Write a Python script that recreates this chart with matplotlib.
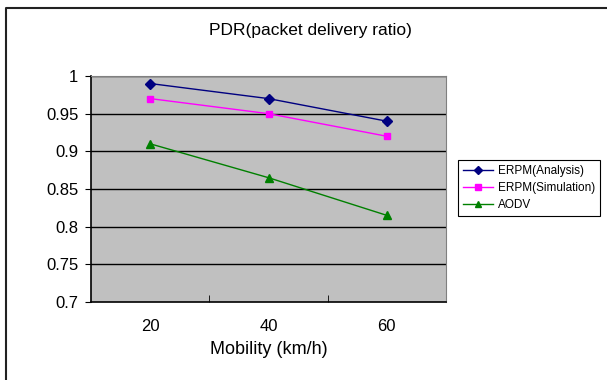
import matplotlib.pyplot as plt
from matplotlib.lines import Line2D
import numpy as np

# data
mobility = ['20', '40', '60']
erpm_analysis = [0.99, 0.97, 0.94]
erpm_sim = [0.97, 0.95, 0.92]
aodv = [0.91, 0.865, 0.815]
yticks = [0.7, 0.75, 0.8, 0.85, 0.9, 0.95, 1.0]
ylabels = ['0.7', '0.75', '0.8', '0.85', '0.9', '0.95', '1']

plt.rcParams['font.family'] = ['Liberation Sans', 'DejaVu Sans']

fig = plt.figure(figsize=(6.07, 3.80), dpi=100)
# outer chart border (only top/left visible in the crop)
bx, by = 5.5/607, 1 - 7.5/380
fig.lines.append(Line2D([bx, bx, 1.01], [-0.01, by, by], transform=fig.transFigure,
                        color='#222222', lw=1.5))

ax = fig.add_axes([91/607, 1 - 302/380, (446-91)/607, (302-76)/380])
ax.set_facecolor('#c0c0c0')

x = np.arange(len(mobility))
ax.plot(x, erpm_analysis, color='#000080', marker='D', ms=5, lw=1, label='ERPM(Analysis)')
ax.plot(x, erpm_sim, color='#ff00ff', marker='s', ms=5, lw=1, label='ERPM(Simulation)')
ax.plot(x, aodv, color='#008000', marker='^', ms=6, lw=1, label='AODV')

ax.set_ylim(0.7, 1.0)
ax.set_xlim(-0.5, 2.5)
ax.set_yticks(yticks)
ax.set_yticklabels(ylabels, fontsize=12)
for yv in yticks[1:]:
    ax.axhline(yv, color='black', lw=1, zorder=1)
ax.set_xticks(x)
ax.set_xticklabels(mobility, fontsize=12)
ax.tick_params(axis='x', which='major', length=0, pad=12)
ax.set_xticks([0.5, 1.5, 2.5], minor=True)
ax.tick_params(axis='x', which='minor', direction='in', length=5, color='black')
ax.tick_params(axis='y', length=4, color='black', pad=5)
for s in ['left', 'bottom']:
    ax.spines[s].set_color('black')
    ax.spines[s].set_linewidth(1.2)
for s in ['top', 'right']:
    ax.spines[s].set_color('#808080')

ax.set_xlabel('Mobility (km/h)', fontsize=13, labelpad=5)
fig.text(310/607, 1 - 31/380, 'PDR(packet delivery ratio)', ha='center', va='center', fontsize=12.5)

leg = fig.legend(loc='upper left', bbox_to_anchor=(458/607, 1 - 160/380), fontsize=8.5,
                 frameon=True, fancybox=False, edgecolor='black', framealpha=1,
                 handlelength=2.6, borderpad=0.4, labelspacing=0.45, handletextpad=0.35,
                 borderaxespad=0, markerscale=0.8)
leg.get_frame().set_linewidth(0.8)

fig.savefig('out.png', dpi=100)
